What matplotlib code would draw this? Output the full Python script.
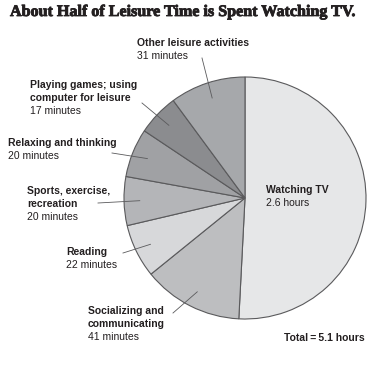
import numpy as np
import matplotlib
matplotlib.use("Agg")
import matplotlib.pyplot as plt
import matplotlib.patheffects as pe

W, H = 373, 366
DPI = 100

categories = ["Watching TV", "Socializing and communicating", "Reading",
              "Sports, exercise, recreation", "Relaxing and thinking",
              "Playing games; using computer for leisure", "Other leisure activities"]
minutes = [156, 41, 22, 20, 20, 17, 31]
value_labels = ["2.6 hours", "41 minutes", "22 minutes", "20 minutes",
                "20 minutes", "17 minutes", "31 minutes"]
label_lines = [["Watching TV"], ["Socializing and", "communicating"], ["Reading"],
               ["Sports, exercise,", "recreation"], ["Relaxing and thinking"],
               ["Playing games; using", "computer for leisure"], ["Other leisure activities"]]
colors = ["#e6e7e8", "#bdbec0", "#d7d8da", "#b4b5b8", "#a0a1a4", "#8b8c8f", "#a6a8ab"]
title = "About Half of Leisure Time is Spent Watching TV."
total_text = "Total\u2009=\u20095.1 hours"

# label anchor (left x, top-line center y) in pixels
label_pos = [(266, 190), (88, 311), (66, 252), (27, 191), (8, 143), (30, 85), (137, 43)]
# leader outer end in pixels (None = no leader)
leader_out = [None, (173, 313), (123, 253), (98, 203), (112, 153), (142, 103), (202, 58)]

TXT = "#231f20"
fig = plt.figure(figsize=(W / DPI, H / DPI), dpi=DPI)
fig.patch.set_facecolor("white")

cx, cy, R = 245, 198, 121
ax = fig.add_axes([(cx - R) / W, (H - cy - R) / H, 2 * R / W, 2 * R / H])
wedges, _ = ax.pie(minutes, colors=colors, startangle=90, counterclock=False,
                   radius=1.0, wedgeprops=dict(edgecolor="#5a5a5c", linewidth=0.8))
ax.set_xlim(-1, 1)
ax.set_ylim(-1, 1)
ax.set_aspect("equal")
ax.axis("off")

def px2d(px, py):
    return ((px - cx) / R, (cy - py) / R)

def fx(px):
    return px / W

def fy(py):
    return 1 - py / H

for i, w in enumerate(wedges):
    lx, ly = label_pos[i]
    lines = label_lines[i]
    for j, ln in enumerate(lines):
        fig.text(fx(lx), fy(ly + 13 * j), ln, fontsize=7.5, fontweight="bold",
                 family="Liberation Sans", color=TXT, va="center", ha="left")
    fig.text(fx(lx), fy(ly + 13 * len(lines)), value_labels[i], fontsize=7.5,
             family="Liberation Sans", color=TXT, va="center", ha="left")
    if leader_out[i] is not None:
        mid = np.deg2rad((w.theta1 + w.theta2) / 2)
        x1, y1 = 0.87 * np.cos(mid), 0.87 * np.sin(mid)
        x0, y0 = px2d(*leader_out[i])
        ax.plot([x0, x1], [y0, y1], color="#5a5a5c", lw=0.6, clip_on=False)

# title fitted to the reference's width (x 10..354 px)
t = fig.text(fx(10), fy(12), title, fontsize=12, fontweight="bold",
             family="Liberation Serif", color=TXT, va="center", ha="left",
             path_effects=[pe.withStroke(linewidth=0.6, foreground=TXT)])
r = fig.canvas.get_renderer()
wpx = t.get_window_extent(r).width
t.set_fontsize(12 * 344 / wpx)

fig.text(fx(365), fy(338), total_text, fontsize=7.5, fontweight="bold",
         family="Liberation Sans", color=TXT, va="center", ha="right")

fig.savefig("out.png", dpi=DPI)
